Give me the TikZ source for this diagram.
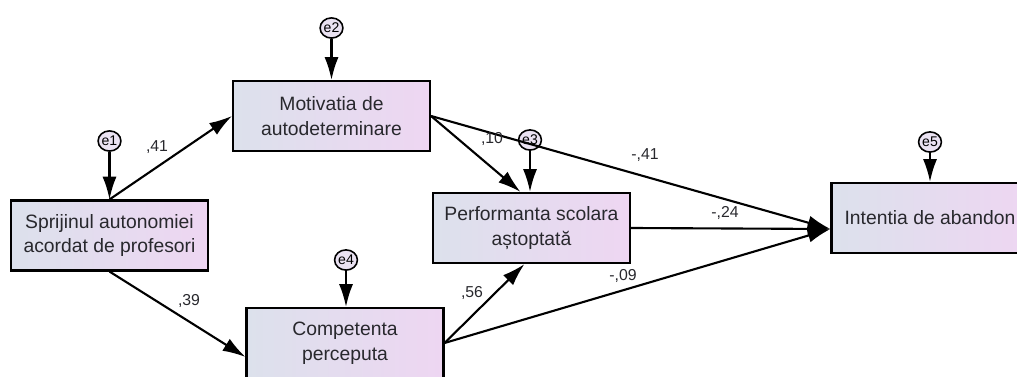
\documentclass[tikz,border=0pt]{standalone}
\usepackage{fontspec}
\setmainfont{Liberation Sans}
\usetikzlibrary{arrows.meta,shapes.geometric}
\definecolor{boxleft}{RGB}{220,225,236}
\definecolor{boxright}{RGB}{238,214,242}
\definecolor{errfill}{RGB}{234,226,242}
\definecolor{txt}{RGB}{40,40,45}

\begin{document}
\begin{tikzpicture}[x=0.02cm,y=-0.02cm,
    var/.style={draw, line width=1.2pt, left color=boxleft, right color=boxright,
      minimum width=3.94cm, minimum height=1.4cm, align=center,
      font=\fontsize{11}{14}\selectfont, text=txt},
    err/.style={draw, ellipse, line width=0.9pt, fill=errfill, inner sep=0pt,
      minimum width=13pt, minimum height=11.5pt, font=\fontsize{8}{9}\selectfont},
    arr/.style={-{Latex[length=13pt,width=8pt]}, line width=1.2pt},
    wt/.style={font=\fontsize{9}{10}\selectfont, inner sep=1pt, text=txt}]

    \useasboundingbox (0,0) rectangle (1017,377);
    \clip (0,0) rectangle (1017,377);

    % observed variables
    \node[var] (sprijin) at (109.5,235.5) {Sprijinul autonomiei\\acordat de profesori};
    \node[var] (motiv) at (331.5,116) {Motivatia de\\autodeterminare};
    \node[var] (perf) at (531.5,228) {Performanta scolara\\aștoptată};
    \node[var] (comp) at (345,343) {Competenta\\perceputa};
    \node[var] (intent) at (930,218) {Intentia de abandon};

    \coordinate (tip) at ([yshift=-0.22cm]intent.west);

    % error terms
    \foreach \e/\x/\y/\b in {1/109.5/141/sprijin, 2/331.5/28/motiv, 3/530/140/perf,
                             4/346/260/comp, 5/930/142/intent}
    {
      \node[err] (e\e) at (\x,\y) {e\e};
      \draw[arr] (e\e) -- (e\e |- \b.north);
    }

    % paths
    \draw[arr] (sprijin.north) -- (motiv.west);
    \draw[arr] (sprijin.south) -- ([yshift=-0.28cm]comp.west);
    \draw[arr] (motiv.east) -- ([xshift=-0.22cm]perf.north);
    \draw[arr] (motiv.east) -- (tip);
    \draw[arr] (comp.east) -- ([xshift=-0.14cm]perf.south);
    \draw[arr] (comp.east) -- (tip);
    \draw[arr] (perf.east) -- (tip);

    % weights
    \node[wt] (w1) at (157,147) {,41};
    \node[wt] (w2) at (189,301) {,39};
    \node[wt] (w3) at (492,139) {,10};
    \node[wt] (w4) at (645,155) {-,41};
    \node[wt] (w5) at (725,213) {-,24};
    \node[wt] (w6) at (623,276) {-,09};
    \node[wt] (w7) at (472,293) {,56};

\end{tikzpicture}
\end{document}
